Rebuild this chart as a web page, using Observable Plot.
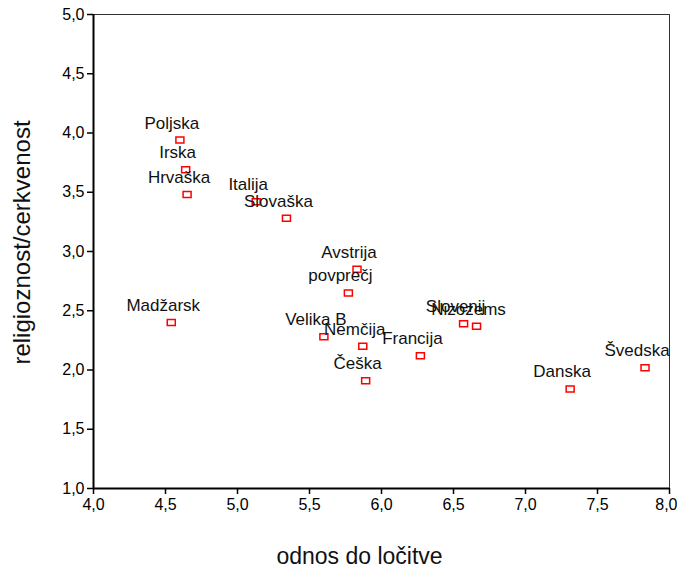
<!DOCTYPE html>
<html>
<head>
<meta charset="utf-8">
<script src="https://cdn.jsdelivr.net/npm/d3@7"></script>
<script src="https://cdn.jsdelivr.net/npm/@observablehq/plot@0.6"></script>
<style>
  html, body { margin: 0; padding: 0; background: white; }
</style>
</head>
<body>
<div id="chart"></div>
<script>
const countries = ["Poljska","Irska","Hrvaška","Italija","Slovaška","Avstrija","povprečj","Madžarsk","Velika B","Nemčija","Češka","Francija","Slovenij","Nizozems","Danska","Švedska"];
const divorceAttitude = [4.60,4.64,4.65,5.13,5.34,5.83,5.77,4.54,5.60,5.87,5.89,6.27,6.57,6.66,7.31,7.83];
const religiosity = [3.94,3.69,3.48,3.42,3.28,2.85,2.65,2.40,2.28,2.20,1.91,2.12,2.39,2.37,1.84,2.02];
const xTicks = [4.0,4.5,5.0,5.5,6.0,6.5,7.0,7.5,8.0];
const yTicks = [1.0,1.5,2.0,2.5,3.0,3.5,4.0,4.5,5.0];
const xTitle = "odnos do ločitve";
const yTitle = "religioznost/cerkvenost";

const data = countries.map((c, i) => ({name: c, x: divorceAttitude[i], y: religiosity[i]}));
const fmt = d => d.toFixed(1).replace(".", ",");
const xMax = xTicks[xTicks.length - 1];
const rectSymbol = { draw(ctx) { ctx.rect(-4, -3, 8, 6); } };

const chart = Plot.plot({
  width: 677,
  height: 571,
  marginLeft: 93,
  marginRight: 8,
  marginTop: 14,
  marginBottom: 83,
  style: { fontFamily: "'Liberation Sans', Arial, sans-serif", fontSize: "16px", color: "black", background: "white" },
  x: { domain: [4, 8] },
  y: { domain: [1, 5] },
  marks: [
    Plot.frame({ stroke: "#333", strokeWidth: 1 }),
    Plot.axisX({ ticks: xTicks, tickFormat: d => d === xMax ? "" : fmt(d), tickSize: 6, tickPadding: 4, label: null, fontSize: 16, strokeWidth: 1.5 }),
    Plot.text([xMax], { x: d => d, text: fmt, frameAnchor: "bottom", lineAnchor: "top", textAnchor: "end", dx: 8, dy: 10, fontSize: 16, fill: "black" }),
    Plot.axisY({ ticks: yTicks, tickFormat: fmt, tickSize: 6, tickPadding: 3, label: null, fontSize: 16, strokeWidth: 1.5 }),
    Plot.ruleX([4], { stroke: "black", strokeWidth: 2 }),
    Plot.ruleY([1], { stroke: "black", strokeWidth: 2 }),
    Plot.dot(data, { x: "x", y: "y", symbol: rectSymbol, stroke: "red", fill: "white", strokeWidth: 1.5 }),
    Plot.text(data, { x: "x", y: "y", text: "name", dx: -8, dy: -17, fontSize: 17, fill: "#111" }),
    Plot.text([xTitle], { frameAnchor: "bottom", lineAnchor: "middle", textAnchor: "middle", dx: -22, dy: 68, fontSize: 23, fill: "#111" }),
    Plot.text([yTitle], { frameAnchor: "left", lineAnchor: "middle", textAnchor: "middle", rotate: -90, dx: -71, dy: -9, fontSize: 24, fill: "#111" })
  ]
});
document.getElementById("chart").appendChild(chart);
</script>
</body>
</html>
